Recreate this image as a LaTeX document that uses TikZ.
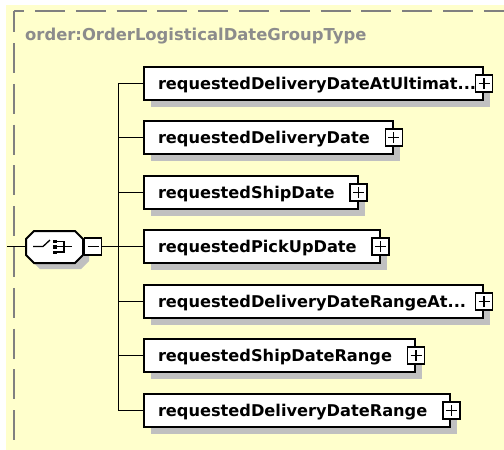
\documentclass[tikz,border=0pt]{standalone}
\usepackage{fontspec}
\setmainfont{DejaVu Sans}
\usetikzlibrary{shadows}
\definecolor{bgyellow}{HTML}{FFFFCC}
\definecolor{shadowgray}{HTML}{C0C0C0}
\definecolor{bordergray}{HTML}{808080}
\definecolor{titlegray}{HTML}{8C8C8C}
\tikzset{
  elem/.style={draw=black, line width=2pt, fill=white, anchor=west,
    minimum height=33pt, inner xsep=14pt, inner ysep=0pt,
    text height=12pt, text depth=0pt,
    font=\fontsize{16.2}{19}\bfseries\selectfont,
    drop shadow={shadow xshift=7pt, shadow yshift=-7pt, fill=shadowgray, opacity=1}},
  conn/.style={draw=black, line width=1pt},
  expbox/.style={draw=black, fill=white, line width=1.5pt, minimum size=17pt, inner sep=0pt},
  plusbox/.style={expbox, path picture={
    \draw[line width=1.2pt] ([xshift=-5.5pt]path picture bounding box.center) -- ([xshift=5.5pt]path picture bounding box.center);
    \draw[line width=1.2pt] ([yshift=-5.5pt]path picture bounding box.center) -- ([yshift=5.5pt]path picture bounding box.center);}},
  minusbox/.style={expbox, path picture={
    \draw[line width=1.2pt] ([xshift=-5.5pt]path picture bounding box.center) -- ([xshift=5.5pt]path picture bounding box.center);}},
  seqarea/.style={draw=none, minimum width=57pt, minimum height=33pt, inner sep=0pt},
  octo/.style={draw=black, line width=2pt, fill=white},
  titletext/.style={anchor=base west, text=titlegray, inner sep=0pt,
    font=\fontsize{16.4}{19}\bfseries\selectfont},
  dashline/.style={draw=bordergray, line width=2pt}
}
\begin{document}
\begin{tikzpicture}[x=1pt, y=-1pt]
\useasboundingbox (0,0) rectangle (504,450);
\fill[white] (0,0) rectangle (504,450);
\fill[bgyellow] (6,5) rectangle (504,450);
% dashed group border
\draw[dashline, dash pattern=on 30pt off 10.8pt, dash phase=19.8pt] (14,11) -- (504,11);
\draw[dashline, dash pattern=on 30pt off 10.8pt, dash phase=8.8pt] (14,11) -- (14,450);
\node[titletext] (title) at (25,40) {order:OrderLogisticalDateGroupType};

% sequence compositor
\def\octpath{(34,231) -- (75,231) -- (83,239) -- (83,255) -- (75,263) -- (34,263) -- (26,255) -- (26,239) -- cycle}
\fill[shadowgray, shift={(6,6)}] \octpath;
\draw[octo] \octpath;
\node[seqarea] (seq) at (54.5,246.5) {};
\begin{scope}[line width=1.3pt]
  \draw (33,246.5) -- (43,246.5) -- (50,240);
  \fill (53,239.5) rectangle (56.5,243);
  \fill (53,245) rectangle (56.5,248.5);
  \fill (53,250.5) rectangle (56.5,254);
  \draw (56.5,241.25) -- (64,241.25) -- (64,252) -- (56.5,252);
  \draw (56.5,246.5) -- (72,246.5);
\end{scope}
\node[minusbox] (minus) at (93,246.5) {};
\coordinate (in) at (7,246.5);
\coordinate (tr) at (118.5,246.5);
\draw[conn] (in) -- (seq.west);
\draw[conn] (minus.east) -- (tr);

% elements
\node[elem] (e1) at (143,83.5) {\makebox[311pt][l]{requestedDeliveryDateAtUltimat...}};
\node[elem] (e2) at (143,137.5) {requestedDeliveryDate\hspace*{9pt}};
\node[elem] (e3) at (143,192.5) {requestedShipDate\hspace*{9pt}};
\node[elem] (e4) at (143,246.5) {requestedPickUpDate\hspace*{9pt}};
\node[elem] (e5) at (143,301.5) {\makebox[311pt][l]{requestedDeliveryDateRangeAt...}};
\node[elem] (e6) at (143,355.5) {requestedShipDateRange\hspace*{9pt}};
\node[elem] (e7) at (143,410.5) {requestedDeliveryDateRange\hspace*{9pt}};
\foreach \i in {1,...,7} {
  \node[plusbox] (p\i) at (e\i.east) {};
  \draw[conn] (tr) |- (e\i.west);
}
\end{tikzpicture}
\end{document}
